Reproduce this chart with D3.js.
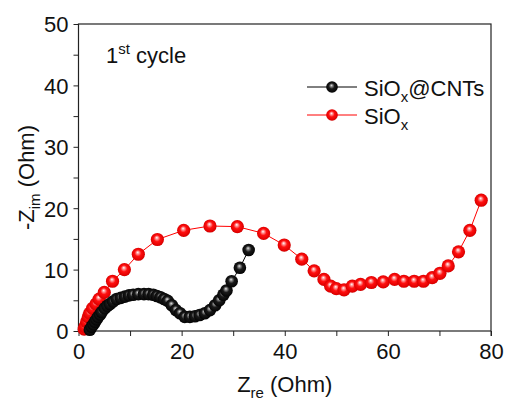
<!DOCTYPE html>
<html>
<head>
<meta charset="utf-8">
<script src="https://cdn.jsdelivr.net/npm/d3@7"></script>
<style>
  body { margin: 0; background: #fff; }
  text { font-family: "Liberation Sans", Arial, sans-serif; fill: #111; }
</style>
</head>
<body>
<div id="chart"></div>
<script>
// SiOx@CNTs (black)
const cntX = [2.2, 2.55, 2.9, 3.2, 3.5, 3.8, 4.2, 4.5, 5.1, 5.6, 6.1, 6.7, 7.4, 8.2, 9.0, 9.8, 10.6, 11.6, 12.7, 13.6, 14.5, 15.2, 15.9, 16.6, 17.3, 18.1, 18.9, 19.7, 20.6, 21.6, 22.6, 23.5, 24.5, 25.5, 26.5, 27.3, 28.1, 28.7, 29.7, 31.3, 33.0];
const cntY = [0.2, 0.7, 1.1, 1.5, 1.9, 2.3, 2.7, 3.1, 3.7, 4.1, 4.4, 4.8, 5.2, 5.4, 5.6, 5.8, 5.9, 6.0, 6.0, 6.0, 5.9, 5.7, 5.5, 5.2, 4.9, 4.2, 3.4, 2.9, 2.3, 2.3, 2.4, 2.6, 2.9, 3.4, 4.2, 5.0, 5.9, 6.6, 8.1, 10.3, 13.2];

// SiOx (red)
const sioX = [1.1, 1.26, 1.6, 1.9, 2.2, 2.75, 3.4, 4.0, 5.0, 6.6, 8.9, 11.6, 15.3, 20.4, 25.5, 30.8, 35.9, 39.9, 43.3, 45.7, 47.6, 48.9, 50.0, 51.5, 53.1, 54.7, 56.8, 59.1, 61.3, 63.1, 65.1, 66.9, 68.6, 70.1, 71.7, 73.7, 75.9, 78.1];
const sioY = [0.3, 0.7, 1.5, 2.3, 2.9, 3.7, 4.4, 5.2, 6.3, 8.1, 10.0, 12.5, 14.9, 16.4, 17.1, 17.0, 15.9, 14.0, 11.7, 9.8, 8.4, 7.3, 6.9, 6.7, 7.3, 7.6, 7.9, 8.0, 8.4, 8.1, 8.1, 8.1, 8.7, 9.4, 10.6, 12.9, 16.4, 21.3];

const xTicks = [0, 20, 40, 60, 80];
const yTicks = [0, 10, 20, 30, 40, 50];

const W = 506, H = 405;
const m = { left: 78.5, top: 24, right: 15, bottom: 74 };
const FS = 22;   // main font size
const SUB = 15;  // sub/superscript size

const svg = d3.select("#chart").append("svg")
    .attr("width", W)
    .attr("height", H);

const x = d3.scaleLinear().domain([0, 80]).range([m.left, W - m.right]);
const y = d3.scaleLinear().domain([0, 50]).range([H - m.bottom, m.top]);

// sphere gradients
const defs = svg.append("defs");
function sphere(id, stops) {
    const g = defs.append("radialGradient").attr("id", id)
        .attr("cx", "50%").attr("cy", "50%").attr("r", "55%")
        .attr("fx", "45%").attr("fy", "35%");
    stops.forEach(s => g.append("stop").attr("offset", s[0]).attr("stop-color", s[1]));
}
sphere("gRed", [["0%", "#ffffff"], ["18%", "#ff9a9a"], ["45%", "#ff1010"], ["85%", "#e00000"], ["100%", "#b00000"]]);
sphere("gBlack", [["0%", "#e8e8e8"], ["18%", "#8a8a8a"], ["45%", "#1a1a1a"], ["100%", "#000000"]]);

// axes
const xAxis = svg.append("g")
    .attr("transform", `translate(0,${y(0)})`)
    .call(d3.axisBottom(x).tickValues(d3.range(0, 81, 10)).tickSize(5).tickFormat(d => xTicks.includes(d) ? d : ""));
const yAxis = svg.append("g")
    .attr("transform", `translate(${x(0)},0)`)
    .call(d3.axisLeft(y).tickValues(d3.range(0, 51, 5)).tickSize(5).tickFormat(d => yTicks.includes(d) ? d : ""));
[xAxis, yAxis].forEach(a => {
    a.select(".domain").remove();
    a.selectAll("line").attr("stroke", "#222");
    a.selectAll("text").style("font-size", FS + "px").attr("fill", "#111");
});
xAxis.selectAll("text").attr("dy", 0).attr("y", 28);
yAxis.selectAll("text").attr("x", -10).attr("dy", "0.36em");
svg.append("line").attr("x1", x(80)).attr("x2", x(80)).attr("y1", y(0)).attr("y2", y(0) + 5).attr("stroke", "#222");

// frame
svg.append("rect")
    .attr("x", x(0)).attr("y", y(50))
    .attr("width", x(80) - x(0)).attr("height", y(0) - y(50))
    .attr("fill", "none").attr("stroke", "#222").attr("stroke-width", 1.2);

// series
const series = [
    { xs: sioX, ys: sioY, color: "#ff0000", grad: "gRed", r: 6.6 },
    { xs: cntX, ys: cntY, color: "#000000", grad: "gBlack", r: 6.3 }
];
const line = d3.line().x(d => x(d[0])).y(d => y(d[1]));
series.forEach(s => {
    const pts = s.xs.map((v, i) => [v, s.ys[i]]);
    const g = svg.append("g");
    g.append("path").attr("d", line(pts)).attr("fill", "none")
        .attr("stroke", s.color).attr("stroke-width", 1);
    g.selectAll("circle").data(pts).join("circle")
        .attr("cx", d => x(d[0])).attr("cy", d => y(d[1])).attr("r", s.r)
        .attr("fill", `url(#${s.grad})`);
});

// annotation
const ann = svg.append("text").attr("x", 106).attr("y", 63).style("font-size", FS + "px");
ann.append("tspan").text("1");
ann.append("tspan").attr("dy", -9).style("font-size", SUB + "px").text("st");
ann.append("tspan").attr("dy", 9).text(" cycle");

// legend
const legend = [
    { label: "SiO", sub: "x", tail: "@CNTs", color: "#000000", grad: "gBlack", cy: 87 },
    { label: "SiO", sub: "x", tail: "", color: "#ff0000", grad: "gRed", cy: 115 }
];
legend.forEach(l => {
    svg.append("line").attr("x1", 307).attr("x2", 357).attr("y1", l.cy).attr("y2", l.cy)
        .attr("stroke", l.color).attr("stroke-width", 1);
    svg.append("circle").attr("cx", 332).attr("cy", l.cy).attr("r", 5.8)
        .attr("fill", `url(#${l.grad})`);
    const t = svg.append("text").attr("x", 364).attr("y", l.cy + 9).style("font-size", FS + "px");
    t.append("tspan").text(l.label);
    t.append("tspan").attr("dy", 6).style("font-size", SUB + "px").text(l.sub);
    if (l.tail) t.append("tspan").attr("dy", -6).text(l.tail);
});

// axis titles
const xt = svg.append("text").attr("x", (x(0) + x(80)) / 2).attr("y", 392)
    .attr("text-anchor", "middle").style("font-size", FS + "px");
xt.append("tspan").text("Z");
xt.append("tspan").attr("dy", 6).style("font-size", SUB + "px").text("re");
xt.append("tspan").attr("dy", -6).text(" (Ohm)");

const yt = svg.append("text")
    .attr("transform", `translate(34,${(y(0) + y(50)) / 2}) rotate(-90)`)
    .attr("text-anchor", "middle").style("font-size", FS + "px");
yt.append("tspan").text("-Z");
yt.append("tspan").attr("dy", 6).style("font-size", SUB + "px").text("im");
yt.append("tspan").attr("dy", -6).text(" (Ohm)");
</script>
</body>
</html>
